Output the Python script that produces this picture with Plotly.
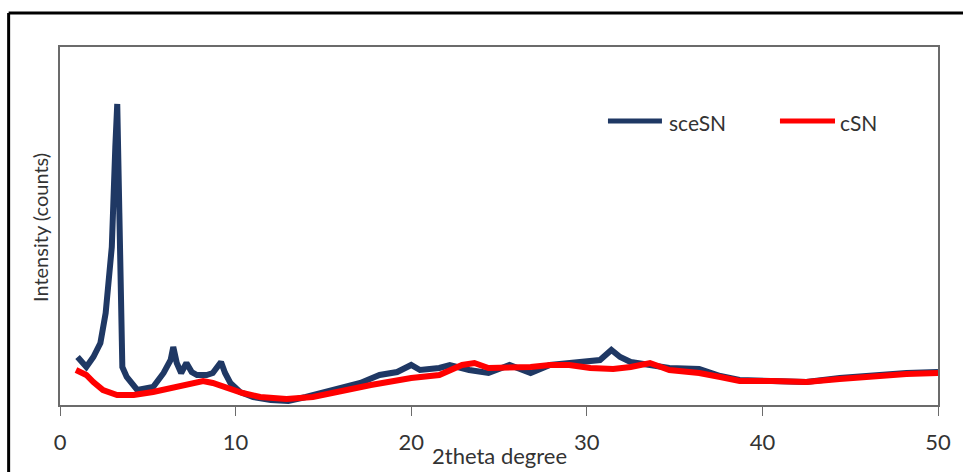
import plotly.graph_objects as go

# 2-theta positions (degrees) and intensities (counts) for each sample
sce_theta = [1.0, 1.5, 1.9, 2.3, 2.6, 2.95, 3.15, 3.26, 3.38, 3.45, 3.55, 3.8, 4.1, 4.4,
             5.3, 5.9, 6.3, 6.45, 6.65, 6.9, 7.2, 7.5, 7.8, 8.35, 8.7, 9.17, 9.4, 9.7,
             10.25, 11.0, 12.0, 13.0, 14.0, 15.4, 16.3, 17.1, 18.2, 19.2, 20.0, 20.5,
             21.6, 22.2, 23.3, 24.4, 25.6, 26.8, 27.9, 29.0, 30.2, 30.75, 31.4, 31.9,
             32.5, 33.6, 34.7, 36.4, 37.6, 38.7, 40.6, 42.5, 44.4, 46.3, 48.2, 50.0]
sce_counts = [480, 380, 480, 620, 920, 1580, 2580, 3010, 1920, 920, 380, 280, 220, 150,
              180, 320, 450, 580, 420, 320, 420, 330, 300, 300, 320, 430, 320, 220,
              130, 80, 50, 40, 80, 150, 180, 220, 300, 330, 400, 350,
              370, 400, 350, 320, 400, 320, 400, 420, 430, 450, 550, 480,
              430, 400, 370, 360, 290, 250, 240, 230, 270, 300, 320, 330]

c_theta = [0.91, 1.5, 1.9, 2.45, 3.25, 4.2, 5.3, 6.45, 7.6, 8.15, 8.7, 9.5, 10.4, 11.4,
           12.9, 14.4, 15.4, 17.7, 20.0, 21.6, 22.9, 23.6, 24.4, 25.6, 26.8, 27.9, 29.0,
           30.2, 31.5, 32.5, 33.6, 34.7, 36.4, 37.6, 38.7, 40.6, 42.5, 44.4, 46.3, 48.2, 50.0]
c_counts = [350, 300, 230, 150, 100, 100, 130, 180, 230, 240, 220, 170, 120, 80,
            60, 80, 120, 200, 270, 300, 400, 420, 370, 370, 380, 400, 400,
            370, 360, 380, 420, 350, 320, 280, 240, 240, 230, 260, 290, 310, 320]

x_ticks = [0, 10, 20, 30, 40, 50]

series_names = ["sceSN", "cSN"]
series_colors = ["#1f3864", "#ff0000"]

FONT = "Lato, 'Open Sans', sans-serif"
AXIS_GREY = "#6b6b6b"
TEXT = "#333333"

fig = go.Figure()
fig.add_trace(go.Scatter(x=sce_theta, y=sce_counts, mode="lines", name=series_names[0],
                         line=dict(color=series_colors[0], width=6)))
fig.add_trace(go.Scatter(x=c_theta, y=c_counts, mode="lines", name=series_names[1],
                         line=dict(color=series_colors[1], width=6)))

# Legend drawn as short line swatches with labels inside the plot area
legend_shapes = []
legend_notes = []
swatch_x = [(0.6241, 0.6856), (0.8200, 0.8827)]
label_x = [0.6913, 0.8861]
for (x0, x1), lx, name, col in zip(swatch_x, label_x, series_names, series_colors):
    legend_shapes.append(dict(type="line", xref="paper", yref="paper", x0=x0, x1=x1,
                              y0=0.7933, y1=0.7933, line=dict(color=col, width=5)))
    legend_notes.append(dict(text=name, xref="paper", yref="paper", x=lx, y=0.7905,
                             xanchor="left", yanchor="middle", showarrow=False,
                             font=dict(size=21, color=TEXT)))

fig.update_layout(
    width=963, height=472,
    margin=dict(l=60, r=25, t=47, b=67, autoexpand=False),
    paper_bgcolor="white", plot_bgcolor="white",
    font=dict(family=FONT, color=TEXT),
    showlegend=False,
    xaxis=dict(range=[0, 50], tickvals=x_ticks, ticks="outside", ticklen=9,
               tickcolor=AXIS_GREY, showline=True, linecolor=AXIS_GREY, linewidth=1.5,
               mirror=True, showgrid=False, zeroline=False,
               tickfont=dict(size=22, color=TEXT), ticklabelstandoff=8),
    yaxis=dict(range=[0, 3580], showticklabels=False, ticks="", showline=True,
               linecolor=AXIS_GREY, linewidth=1.5, mirror=True, showgrid=False,
               zeroline=False),
    annotations=[
        dict(text="2theta degree", xref="paper", yref="paper", x=0.5, y=-0.1844,
             xanchor="center", yanchor="bottom", showarrow=False,
             font=dict(size=22, color=TEXT)),
        dict(text="Intensity (counts)", xref="paper", yref="paper", x=-0.0228, y=0.497,
             xanchor="center", yanchor="middle", showarrow=False, textangle=-90,
             font=dict(size=20, color=TEXT)),
    ] + legend_notes,
    shapes=[
        # outer frame around the figure
        dict(type="line", xref="paper", yref="paper", x0=-0.0585, x1=1.04,
             y0=1.095, y1=1.095, line=dict(color="black", width=3)),
        dict(type="line", xref="paper", yref="paper", x0=-0.0585, x1=-0.0585,
             y0=1.095, y1=-0.25, line=dict(color="black", width=3)),
    ] + legend_shapes,
)

fig.write_html("out.html")
